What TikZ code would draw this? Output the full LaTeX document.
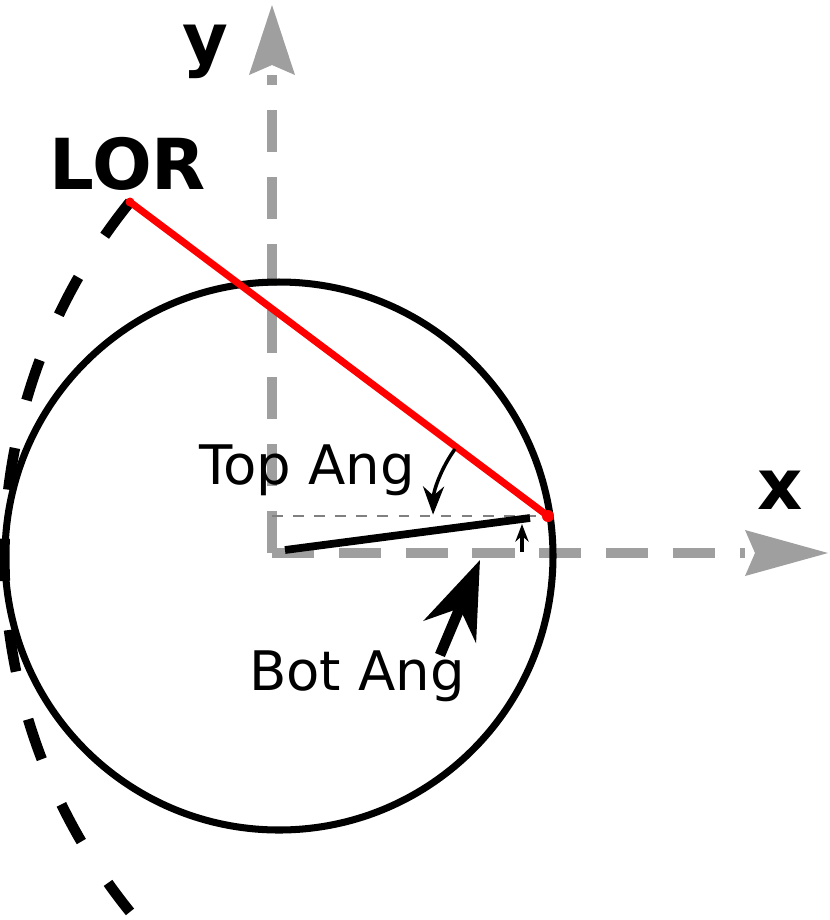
\documentclass[tikz,border=0pt]{standalone}
\usepackage{fontspec}
\setmainfont{DejaVu Sans}
\usetikzlibrary{arrows.meta}
\tikzset{
  axis/.style={gray!75,line width=3pt,dash pattern=on 12pt off 7pt},
  axishead/.style={gray!75,fill=gray!75},
  big/.style={font=\fontsize{20}{20}\selectfont\bfseries},
  lbl/.style={font=\fontsize{15.5}{16}\selectfont}
}
\begin{document}
\begin{tikzpicture}[x=0.01cm,y=-0.01cm]
\useasboundingbox (0,0) rectangle (830,920);
% points
\coordinate (O) at (272,553);
\coordinate (P) at (548,516);
\coordinate (L) at (130,202);
\coordinate (Q) at (272,516);
% axes
\draw[axis] (O) -- (272,75);
\draw[axis] (O) -- (745,553);
\fill[axishead] (272,5) -- (295,75) -- (272,65) -- (249,75) -- cycle;
\fill[axishead] (828,553) -- (745,576) -- (755,553) -- (745,530) -- cycle;
% circles
\draw[line width=2pt] (279,556) circle (274);
\draw[line width=3pt,dash pattern=on 12pt off 14pt] (130,202) arc[start angle=-141,end angle=-219,radius=564];
% lines
\draw[gray,thin,dashed] (Q) -- (P);
\draw[line width=2.2pt] (285,550) -- (530,518);
\draw[red,line width=2pt] (L) -- (P);
\fill[red] (L) circle (4.5);
\fill[red] (P) circle (6);
% angles
\draw[-{Stealth[length=8pt]},line width=1pt] (455,449) arc[start angle=216,end angle=181,radius=115];
\draw[-{Stealth[length=5pt]},line width=1pt] (522,552) -- (522,524);
\draw[-{Stealth[length=22pt,width=16pt]},line width=3pt] (440,655) -- (480,560);
% labels
\node[big] (ylab) at (205,52) {y};
\node[big] (xlab) at (780,490) {x};
\node[big] (lor) at (128,164) {LOR};
\node[lbl] (top) at (307,470) {Top Ang};
\node[lbl] (bot) at (357,676) {Bot Ang};
\end{tikzpicture}
\end{document}
